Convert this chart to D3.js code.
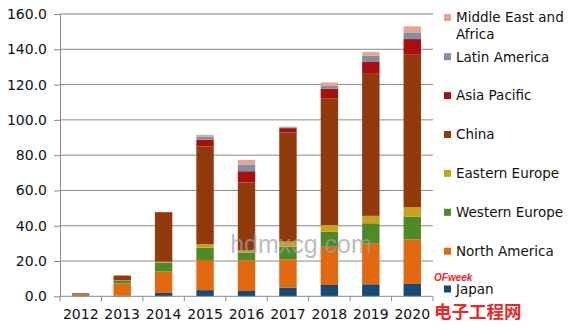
<!DOCTYPE html>
<html><head><meta charset="utf-8">
<script src="https://cdn.jsdelivr.net/npm/d3@7"></script>
<style>body{margin:0;background:#fff}svg{display:block}</style>
</head><body>
<svg id="c" width="580" height="330"></svg>
<script>
const years = ["2012","2013","2014","2015","2016","2017","2018","2019","2020"];
const japan         = [0.1, 0.3, 1.9, 3.5, 3.0, 5.0, 6.4, 6.8, 7.0];
const northAmerica  = [0.6, 6.9, 12.1, 17.1, 17.4, 16.0, 21.7, 23.3, 25.3];
const westernEurope = [0.2, 1.5, 5.1, 7.0, 4.2, 7.1, 8.5, 11.3, 12.9];
const easternEurope = [0.1, 0.3, 0.5, 1.9, 1.4, 2.9, 3.8, 4.2, 5.3];
const china         = [0.7, 2.7, 28.0, 55.4, 38.5, 61.8, 71.6, 80.5, 86.4];
const asiaPacific   = [0, 0.1, 0.2, 3.8, 6.4, 2.5, 5.6, 7.0, 8.9];
const latinAmerica  = [0, 0, 0, 1.9, 3.8, 0.5, 1.9, 3.2, 3.8];
const middleEastAfrica = [0, 0, 0, 0.9, 2.6, 0.4, 1.7, 2.1, 3.4];
const seriesNames = ["Japan","North America","Western Europe","Eastern Europe","China","Asia Pacific","Latin America","Middle East and Africa"];
const seriesValues = [japan, northAmerica, westernEurope, easternEurope, china, asiaPacific, latinAmerica, middleEastAfrica];
const yTicks = [0,20,40,60,80,100,120,140,160];

const colors = ["#174a74","#e2690f","#4f8a28","#c8a11f","#923a0b","#a8100f","#7f8fa8","#e8a38e"];

const svg = d3.select("#c");
const mLeft = 60, mRight = 433, mTop = 14, mBottom = 296.3;
const x = d3.scaleBand().domain(years).range([mLeft,mRight]).paddingInner(0.58).paddingOuter(0.29);
const y = d3.scaleLinear().domain([0,160]).range([mBottom,mTop]);

const table = years.map((yr,i)=>{const o={year:yr}; seriesNames.forEach((s,k)=>o[s]=seriesValues[k][i]); return o;});
const stack = d3.stack().keys(seriesNames)(table);

svg.append("g").selectAll("line").data(yTicks.filter(d=>d>0)).join("line")
  .attr("x1",mLeft).attr("x2",mRight).attr("y1",d=>y(d)).attr("y2",d=>y(d))
  .attr("stroke",d=>d===160?"#a8a8a8":"#8a8a8a").attr("stroke-width",d=>d===160?1.4:1);

const ya = svg.append("g").attr("transform",`translate(${mLeft},0)`)
  .call(d3.axisLeft(y).tickValues(yTicks).tickFormat(d3.format(".1f")).tickSize(6).tickPadding(7).tickSizeOuter(0));
ya.select(".domain").attr("stroke","#8a8a8a");
ya.selectAll(".tick line").attr("stroke","#8a8a8a");
ya.selectAll("text").attr("font-family","DejaVu Sans, Verdana, sans-serif").attr("font-size","14px").attr("fill","#111");

svg.append("g").selectAll("g").data(stack).join("g").attr("fill",(d,i)=>colors[i])
  .selectAll("rect").data(d=>d).join("rect")
  .attr("x",d=>x(d.data.year)).attr("width",x.bandwidth())
  .attr("y",d=>y(d[1])).attr("height",d=>Math.max(0,y(d[0])-y(d[1])));

const xa = svg.append("g").attr("transform",`translate(0,${mBottom})`)
  .call(d3.axisBottom(x).tickSize(0).tickPadding(13).tickSizeOuter(0));
xa.select(".domain").attr("stroke","#8a8a8a").attr("d",`M${mLeft},0H${mRight}`);
xa.selectAll("text").attr("font-family","DejaVu Sans, Verdana, sans-serif").attr("font-size","14px").attr("fill","#111");
const step = x.step();
const bounds = d3.range(years.length+1).map(i=> mLeft + i*step);
xa.selectAll(".bnd").data(bounds).join("line").attr("class","bnd")
  .attr("x1",d=>d).attr("x2",d=>d).attr("y1",0).attr("y2",5).attr("stroke","#8a8a8a");

svg.append("text").attr("x",301).attr("y",253).attr("text-anchor","middle")
  .attr("font-family","Liberation Sans, Arial, sans-serif").attr("font-size","25px")
  .attr("fill","#a0a0a0").attr("fill-opacity",0.7).text("hdmxcg.com");

const legendOrder = [7,6,5,4,3,2,1,0];
const legendY = [17.5,56.7,95.6,134.5,173.4,212.3,251.2,289];
const lg = svg.append("g").attr("font-family","DejaVu Sans, Verdana, sans-serif").attr("font-size","13.5px").attr("fill","#111");
legendOrder.forEach((k,j)=>{
  const cy = legendY[j];
  lg.append("rect").attr("x",444).attr("y",cy-3.5).attr("width",7).attr("height",7).attr("fill",colors[k]);
  const t = lg.append("text").attr("x",456).attr("y",cy).attr("dy","0.36em");
  if(k===7){
    t.append("tspan").attr("x",456).text("Middle East and");
    t.append("tspan").attr("x",456).attr("dy","1.26em").text("Africa");
  } else t.text(seriesNames[k]);
});

svg.append("text").attr("x",434).attr("y",281).attr("font-family","Liberation Sans, Arial, sans-serif")
  .attr("font-size","10px").attr("font-weight","bold").attr("font-style","italic").attr("fill","#e8282b").text("OFweek");
svg.append("text").attr("x",434).attr("y",318).attr("font-family","Noto Sans CJK SC, sans-serif")
  .attr("font-size","17.5px").attr("font-weight","bold").attr("fill","#e8282b").text("电子工程网");
</script>
</body></html>
